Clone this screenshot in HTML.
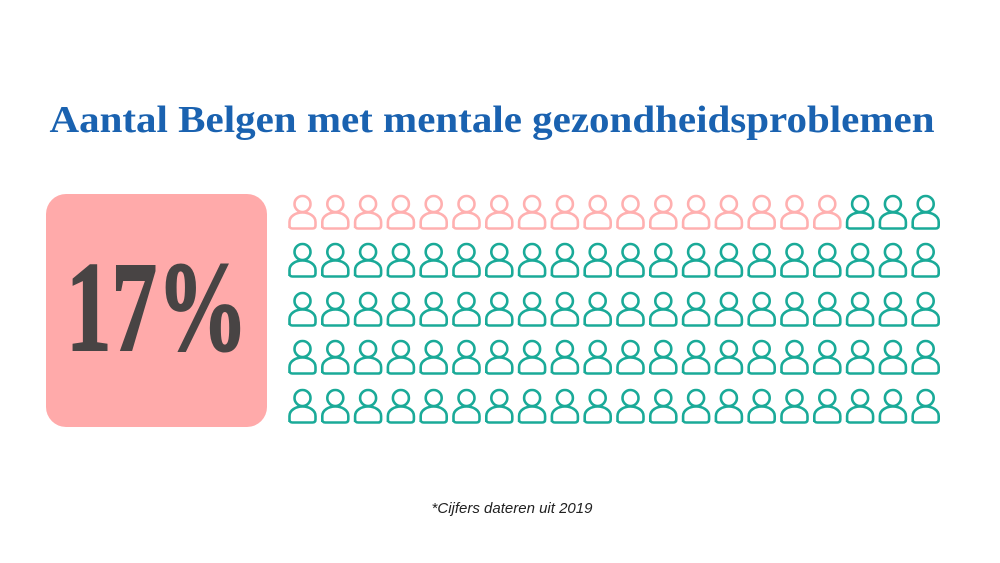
<!DOCTYPE html>
<html><head><style>
html,body{margin:0;padding:0;background:#fff;width:1000px;height:563px;overflow:hidden}
</style></head><body>
<svg width="1000" height="563" viewBox="0 0 1000 563" xmlns="http://www.w3.org/2000/svg">
<defs>
<g id="p" fill="none" stroke-width="2.6">
<circle cx="14.5" cy="9" r="8"/>
<path d="M1.5,33 L1.5,27 C1.5,21 8,17.5 14.5,17.5 C21,17.5 27.5,21 27.5,27 L27.5,30.5 C27.5,32.5 26.5,33.5 24.5,33.5 L4.5,33.5 C2.5,33.5 1.5,32.5 1.5,30.5 Z"/>
</g>
</defs>
<text x="492" y="132" text-anchor="middle" font-family="Liberation Serif, serif" font-weight="bold" font-size="38" fill="#1a62b0" textLength="885" lengthAdjust="spacingAndGlyphs">Aantal Belgen met mentale gezondheidsproblemen</text>
<rect x="46" y="194" width="221" height="233" rx="20" fill="#ffaaaa"/>
<text x="157" y="350" text-anchor="middle" font-family="Liberation Serif, serif" font-weight="bold" font-size="128" fill="#484444" stroke="#484444" stroke-width="2" textLength="182" lengthAdjust="spacingAndGlyphs">17%</text>
<g id="grid"></g>
<text x="512" y="513" text-anchor="middle" font-family="Liberation Sans, sans-serif" font-style="italic" font-size="15" fill="#222">*Cijfers dateren uit 2019</text>
</svg>
<script>
var g=document.getElementById('grid'),s='';
var tops=[195,243,292,340,389];
for(var r=0;r<5;r++)for(var c=0;c<20;c++){
 var x=288+c*32.8,y=tops[r];
 var col=(r==0&&c<17)?'#ffb0b0':'#1aaa98';
 s+='<use href="#p" x="'+x.toFixed(1)+'" y="'+y+'" stroke="'+col+'"/>';
}
g.innerHTML=s;
</script>
</body></html>
